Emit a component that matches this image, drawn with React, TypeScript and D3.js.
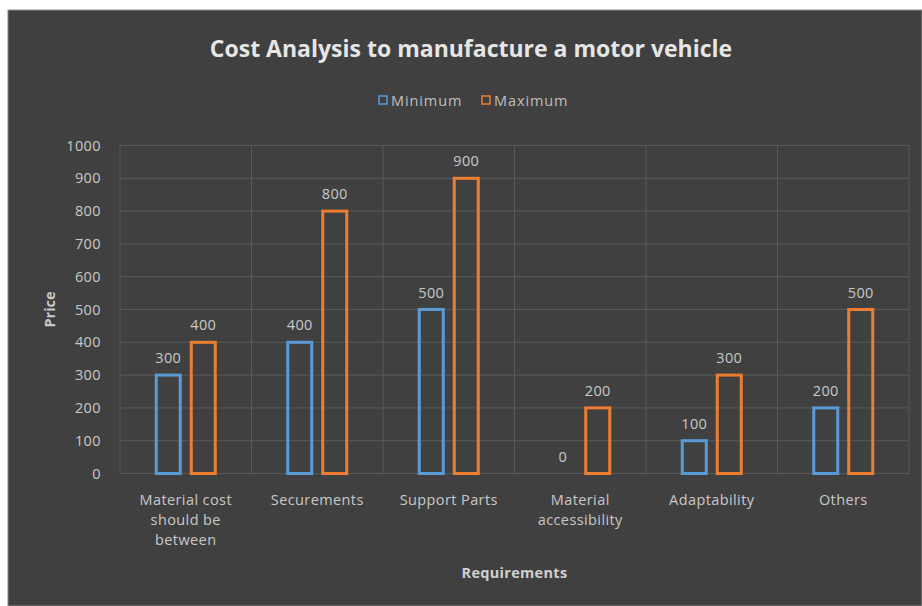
import React from "react";
import * as d3 from "d3";

const categories = [
  ["Material cost", "should be", "between"],
  ["Securements"],
  ["Support Parts"],
  ["Material", "accessibility"],
  ["Adaptability"],
  ["Others"],
];
const categoryKeys = ["Material cost should be between", "Securements", "Support Parts", "Material accessibility", "Adaptability", "Others"];
const minimumValues = [300, 400, 500, 0, 100, 200];
const maximumValues = [400, 800, 900, 200, 300, 500];
const yTicks = [0, 100, 200, 300, 400, 500, 600, 700, 800, 900, 1000];
const seriesNames = ["Minimum", "Maximum"];
const seriesColors = ["#5B9BD5", "#ED7D31"];

const W = 922;
const H = 606;
const left = 120;
const right = 909;
const top = 145.5;
const bottom = 473.5;
const FONT = "'Open Sans', Lato, sans-serif";
const FS = 14.5;
const LS = 0.4;

export default function App() {
  const x = d3.scaleBand<string>().domain(categoryKeys).range([left, right]).padding(0);
  const y = d3.scaleLinear().domain([0, 1000]).range([bottom, top]);
  const barW = 24;
  const off = 17.5;
  const series = [minimumValues, maximumValues];

  return (
    <svg width={W} height={H} style={{ position: "absolute", left: 0, top: 0, display: "block" }}>
      <rect x={0} y={0} width={W} height={H} fill="#ffffff" />
      <rect x={8} y={10} width={W - 8} height={H - 10} fill="#404040" stroke="#8a8a8a" strokeWidth={1} />
      <text x={471} y={57} textAnchor="middle" fontFamily={FONT} fontWeight={700} fontSize={23} fill="#e6e6e6">
        Cost Analysis to manufacture a motor vehicle
      </text>
      {/* legend */}
      {seriesNames.map((n, i) => {
        const lx = i === 0 ? 379 : 482;
        return (
          <g key={n}>
            <rect x={lx} y={96} width={8} height={8} fill="none" stroke={seriesColors[i]} strokeWidth={1.5} />
            <text x={lx + 12} y={106} fontFamily={FONT} fontSize={FS} letterSpacing={0.9} fill="#bfbfbf">{n}</text>
          </g>
        );
      })}
      {/* grid */}
      {yTicks.map((t) => (
        <line key={"h" + t} x1={left} x2={right} y1={y(t)} y2={y(t)} stroke="#595959" strokeWidth={1} />
      ))}
      {categoryKeys.map((c) => (
        <line key={"v" + c} x1={x(c)!} x2={x(c)!} y1={top} y2={bottom} stroke="#595959" strokeWidth={1} />
      ))}
      <line x1={right} x2={right} y1={top} y2={bottom} stroke="#595959" strokeWidth={1} />
      {/* y ticks */}
      {yTicks.map((t) => (
        <text key={"yt" + t} x={101} y={y(t) + 5} textAnchor="end" fontFamily={FONT} fontSize={FS} letterSpacing={LS} fill="#c8c8c8">
          {t}
        </text>
      ))}
      <text transform={`translate(55,${(top + bottom) / 2}) rotate(-90)`} textAnchor="middle" fontFamily={FONT} fontWeight={700} fontSize={FS} fill="#c8c8c8">
        Price
      </text>
      {/* bars */}
      {series.map((vals, si) =>
        vals.map((v, i) => {
          const cx = x(categoryKeys[i])! + x.bandwidth() / 2 + (si === 0 ? -off : off);
          const y0 = y(v);
          return (
            <g key={si + "-" + i}>
              {v > 0 && (
                <rect x={cx - barW / 2} y={y0} width={barW} height={bottom - y0} fill="none" stroke={seriesColors[si]} strokeWidth={3} />
              )}
              <text x={cx} y={y0 - 12} textAnchor="middle" fontFamily={FONT} fontSize={FS} letterSpacing={LS} fill="#c8c8c8">
                {v}
              </text>
            </g>
          );
        })
      )}
      {/* x labels */}
      {categories.map((lines, i) => (
        <text key={"xl" + i} textAnchor="middle" fontFamily={FONT} fontSize={FS} letterSpacing={LS} fill="#c8c8c8">
          {lines.map((ln, j) => (
            <tspan key={j} x={x(categoryKeys[i])! + x.bandwidth() / 2} y={505 + j * 20}>
              {ln}
            </tspan>
          ))}
        </text>
      ))}
      <text x={(left + right) / 2} y={578} textAnchor="middle" fontFamily={FONT} fontWeight={700} fontSize={FS} letterSpacing={0.3} fill="#d0d0d0">
        Requirements
      </text>
    </svg>
  );
}
